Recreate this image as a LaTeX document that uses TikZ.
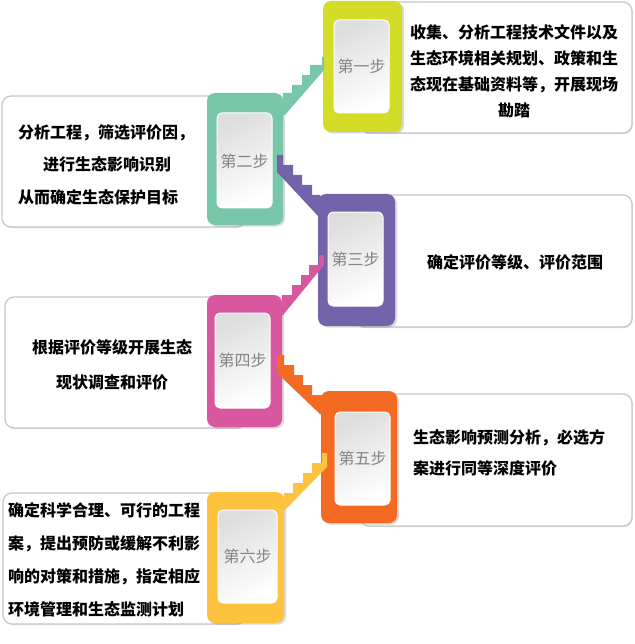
\documentclass[tikz,border=0pt]{standalone}
\usepackage{fontspec}
\newfontfamily\cjk{Noto Sans CJK SC}
\usetikzlibrary{shadows}
\definecolor{cOne}{HTML}{D3DC27}
\definecolor{cTwo}{HTML}{78C7AB}
\definecolor{cThree}{HTML}{7263AB}
\definecolor{cFour}{HTML}{D9579F}
\definecolor{cFive}{HTML}{F36A22}
\definecolor{cSix}{HTML}{FDC33E}
\begin{document}
\begin{tikzpicture}[x=1pt,y=-1pt,
  textbox/.style={fill=white, draw=black!22, line width=1.2pt, rounded corners=9pt,
    drop shadow={shadow xshift=0.8pt, shadow yshift=-1.2pt, opacity=0.25}},
  colorbox/.style={rounded corners=8pt,
    drop shadow={shadow xshift=2pt, shadow yshift=-1.5pt, opacity=0.3}},
  innerbox/.style={rounded corners=5pt, draw=white, line width=1pt,
    top color=black!13, bottom color=white, shading angle=25},
  steplabel/.style={inner sep=0pt, text=black!48, font=\cjk\fontsize{16pt}{16pt}\selectfont},
  bodytext/.style={inner sep=0pt, text=black},
]
\useasboundingbox (0,0) rectangle (634,644);

% text boxes
\path[textbox] (360,2) rectangle (632,133);
\path[textbox] (2,96) rectangle (245,227);
\path[textbox] (355,195) rectangle (632,327);
\path[textbox] (5,297) rectangle (245,428);
\path[textbox] (360,394) rectangle (632,526);
\path[textbox] (3,493) rectangle (245,624);

% coloured boxes
\path[colorbox, fill=cOne]   (323,1)   rectangle (402,132);
\path[colorbox, fill=cTwo]   (207,93)  rectangle (283,225);
\path[colorbox, fill=cThree] (318,194) rectangle (395,326);
\path[colorbox, fill=cFour]  (207,295) rectangle (282,427);
\path[colorbox, fill=cFive]  (321,391) rectangle (397,523);
\path[colorbox, fill=cSix]   (207,492) rectangle (284,623);

% inner boxes
\path[innerbox] (334,20)  rectangle (389,113);
\path[innerbox] (217,113) rectangle (272,208);
\path[innerbox] (328,212) rectangle (383,306);
\path[innerbox] (215,313) rectangle (270,408);
\path[innerbox] (335,412) rectangle (390,505);
\path[innerbox] (218,510) rectangle (277,603);

% stairs
\fill[cTwo] (283,93) -- (292,93) -- (292,85) -- (302,85) -- (302,75) -- (310,75) -- (310,65)
  -- (322,65) -- (322,57) -- (324,57) -- (324,70) -- (285,115) -- (283,115) -- cycle;
\fill[cThree] (277,155) -- (283,155) -- (283,165) -- (293,165) -- (293,175) -- (302,175)
  -- (302,185) -- (312,185) -- (312,195) -- (320,195) -- (320,216) -- (318,216) -- (277,172) -- cycle;
\fill[cFour] (282,295) -- (292,295) -- (292,285) -- (301,285) -- (301,275) -- (309,275)
  -- (309,265) -- (319,265) -- (319,255) -- (324,255) -- (324,265) -- (283,315) -- (282,315) -- cycle;
\fill[cFive] (277,355) -- (284,355) -- (284,365) -- (294,365) -- (294,375) -- (303,375)
  -- (303,385) -- (312,385) -- (312,395) -- (322,395) -- (322,414) -- (320,414) -- (277,373) -- cycle;
\fill[cSix] (284,493) -- (293,493) -- (293,483) -- (303,483) -- (303,473) -- (312,473)
  -- (312,463) -- (322,463) -- (322,453) -- (327,453) -- (327,467) -- (285,510) -- (284,510) -- cycle;

% step labels
\node[steplabel] (l1) at (361.5,66.5) {第一步};
\node[steplabel] (l2) at (244.5,161) {第二步};
\node[steplabel] (l3) at (355.5,259) {第三步};
\node[steplabel] (l4) at (242.5,360.5) {第四步};
\node[steplabel] (l5) at (362.5,458.5) {第五步};
\node[steplabel] (l6) at (247.5,556.5) {第六步};

% body texts
\node[bodytext, align=center, font=\cjk\bfseries\fontsize{16pt}{26pt}\selectfont] (t1) at (514,71)
  {收集、分析工程技术文件以及\\生态环境相关规划、政策和生\\态现在基础资料等，开展现场\\勘踏};
\node[bodytext, align=left, anchor=west, font=\cjk\bfseries\fontsize{16pt}{32.5pt}\selectfont] (t2) at (18,164.5)
  {分析工程，筛选评价因，\\\hspace*{25pt}进行生态影响识别\\从而确定生态保护目标};
\node[bodytext, font=\cjk\bfseries\fontsize{16pt}{16pt}\selectfont] (t3) at (515,262)
  {确定评价等级、评价范围};
\node[bodytext, align=center, font=\cjk\bfseries\fontsize{16pt}{35pt}\selectfont] (t4) at (112,364.5)
  {根据评价等级开展生态\\现状调查和评价};
\node[bodytext, align=left, anchor=west, font=\cjk\bfseries\fontsize{16pt}{31pt}\selectfont] (t5) at (413,452.5)
  {生态影响预测分析，必选方\\案进行同等深度评价};
\node[bodytext, align=left, anchor=west, font=\cjk\bfseries\fontsize{16pt}{33pt}\selectfont] (t6) at (8,560)
  {确定科学合理、可行的工程\\案，提出预防或缓解不利影\\响的对策和措施，指定相应\\环境管理和生态监测计划};
\end{tikzpicture}
\end{document}
